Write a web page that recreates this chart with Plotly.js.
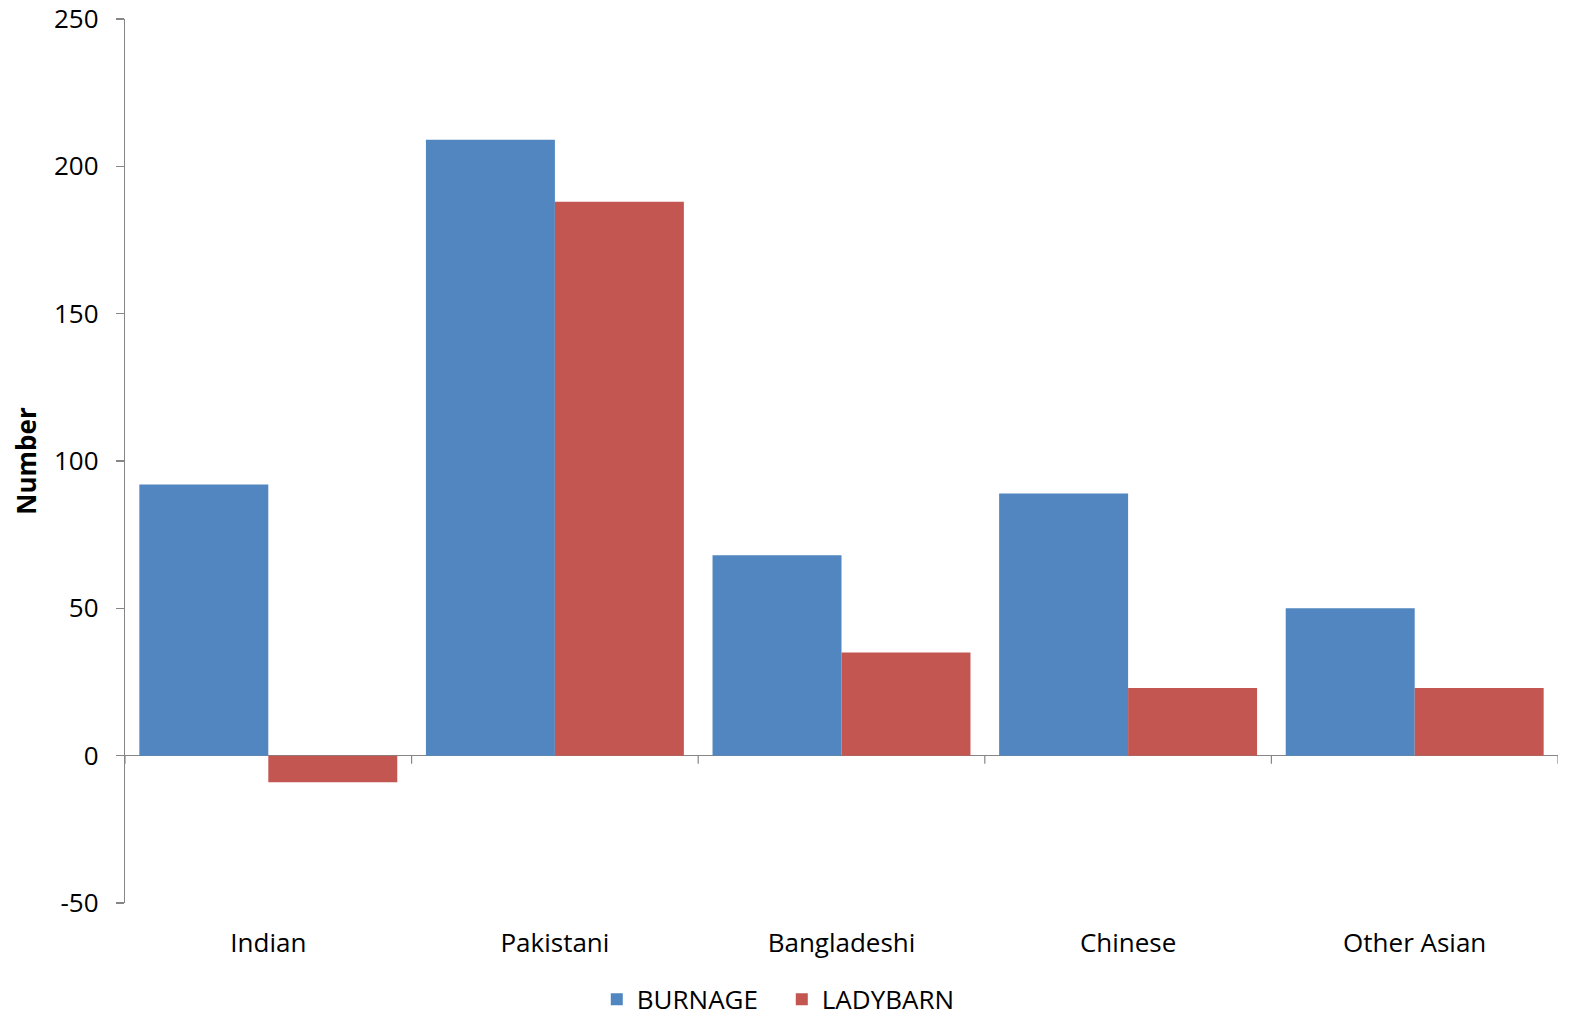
<!DOCTYPE html>
<html>
<head>
<meta charset="utf-8">
<script src="https://cdn.plot.ly/plotly-3.0.1.min.js"></script>
<style>html,body{margin:0;padding:0;background:#fff;}#chart{width:1589px;height:1026px;}</style>
</head>
<body>
<div id="chart"></div>
<script>
const categories = ["Indian", "Pakistani", "Bangladeshi", "Chinese", "Other Asian"];
const burnage = [92, 209, 68, 89, 50];
const ladybarn = [-9, 188, 35, 23, 23];
const yTicks = [-50, 0, 50, 100, 150, 200, 250];
const yTickText = ["-50", "0", "50", "100", "150", "200", "250"];
const boundaries = [-0.5, 0.5, 1.5, 2.5, 3.5, 4.5];

const fontFam = "'Open Sans', 'Noto Sans', sans-serif";

const traces = [
  {type: "bar", name: "BURNAGE", x: categories, y: burnage, marker: {color: "#5186C0"}},
  {type: "bar", name: "LADYBARN", x: categories, y: ladybarn, marker: {color: "#C35651"}}
];

const shapes = boundaries.map(b => ({
  type: "line", xref: "x", yref: "y", x0: b, x1: b,
  ysizemode: "pixel", yanchor: 0, y0: 0, y1: -8,
  line: {color: "#868686", width: 1.2}
}));

const layout = {
  width: 1589, height: 1026,
  margin: {l: 125, r: 31, t: 19, b: 123, autoexpand: false},
  paper_bgcolor: "#fff", plot_bgcolor: "#fff",
  font: {family: fontFam, size: 26, color: "#000"},
  barmode: "group", bargap: 0.1, bargroupgap: 0,
  showlegend: true,
  legend: {orientation: "h", xref: "container", yref: "container",
           x: 0.492, xanchor: "center", y: 0.026, yanchor: "middle",
           entrywidth: 140, entrywidthmode: "pixels",
           font: {size: 26}, traceorder: "normal"},
  xaxis: {type: "category", showline: false, ticks: "", showgrid: false, zeroline: false,
          automargin: false, tickfont: {size: 26}, ticklabelstandoff: 22, range: [-0.5, 4.5]},
  yaxis: {range: [-50, 250], tickvals: yTicks, ticktext: yTickText, showgrid: false, showline: true,
          automargin: false,
          linecolor: "#868686", linewidth: 1.2, ticks: "outside", ticklen: 8,
          tickcolor: "#868686", tickwidth: 1.2, zeroline: true, zerolinecolor: "#868686",
          zerolinewidth: 1.2, tickfont: {size: 26}, ticklabelstandoff: 12,
          title: {text: "<b>Number</b>", font: {size: 26}, standoff: 9}},
  shapes: shapes
};

Plotly.newPlot("chart", traces, layout, {displayModeBar: false, staticPlot: true});
</script>
</body>
</html>
